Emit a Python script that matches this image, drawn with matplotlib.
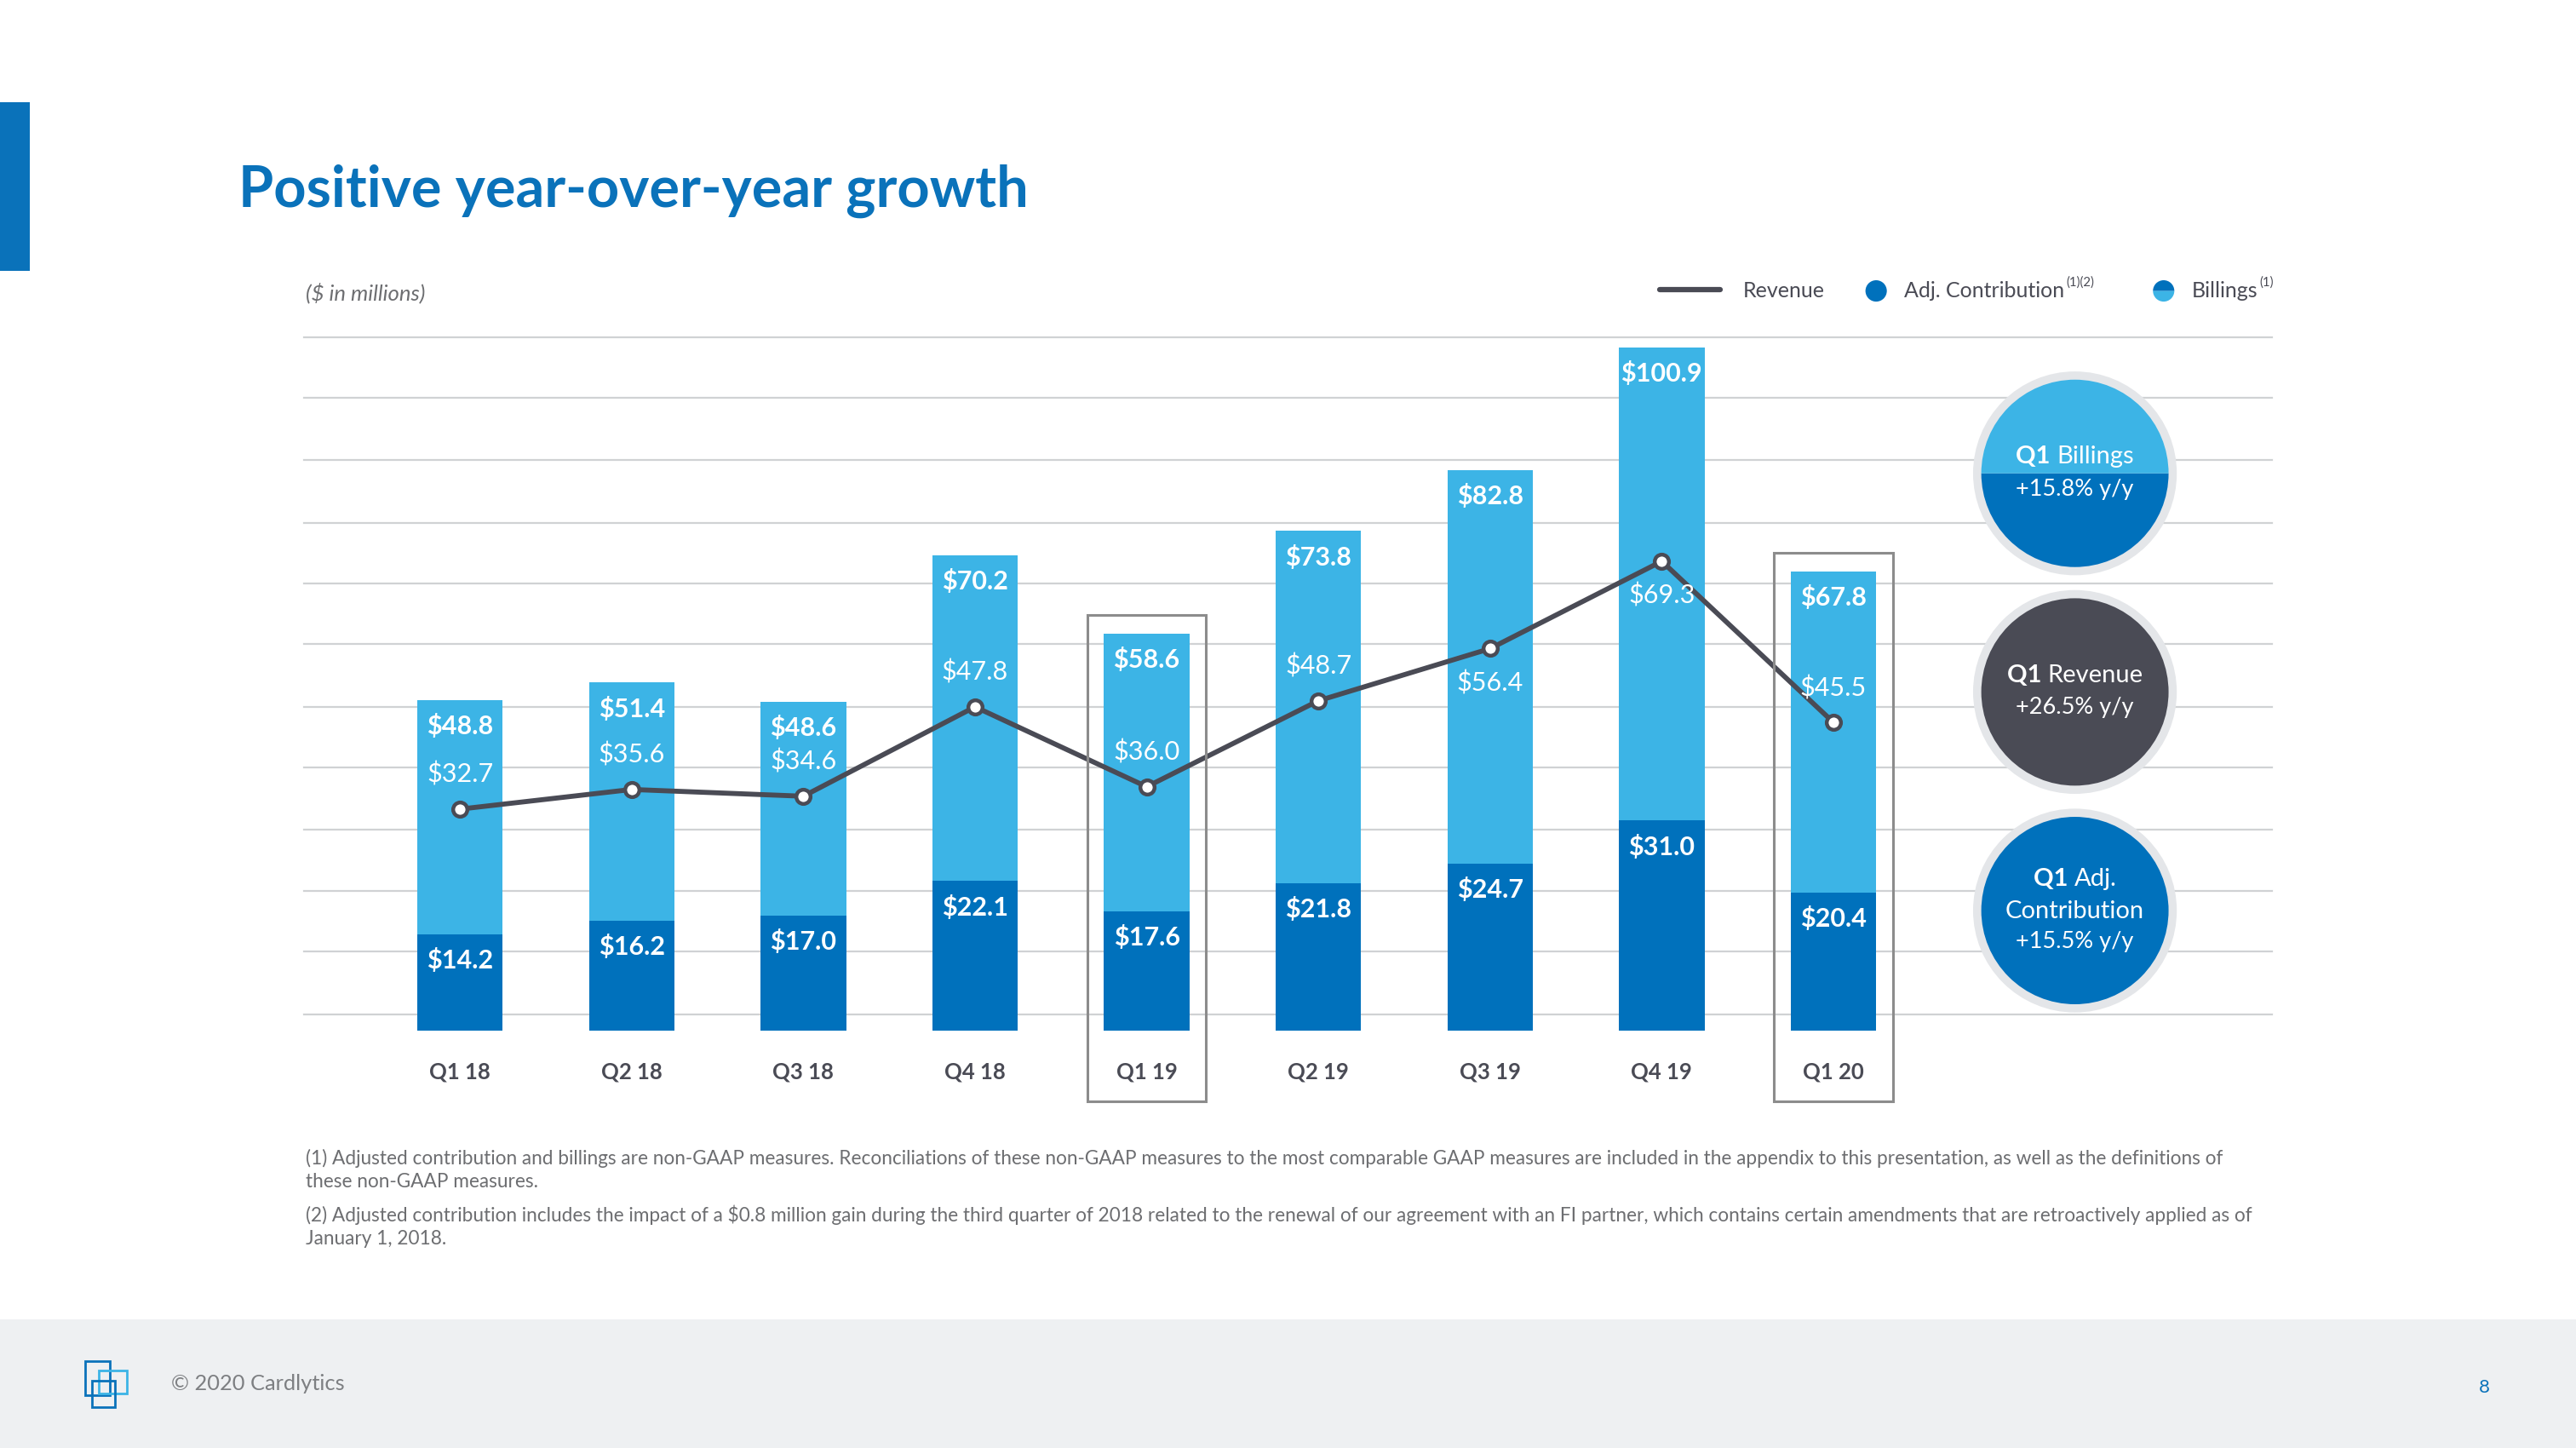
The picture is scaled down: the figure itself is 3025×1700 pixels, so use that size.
import matplotlib

matplotlib.use("Agg")

import matplotlib.pyplot as plt
import numpy as np
from matplotlib.patches import Rectangle, Circle, Wedge

plt.rcParams["font.family"] = ["Lato", "DejaVu Sans"]

# ---- data ($ in millions) ----
quarters = ["Q1 18", "Q2 18", "Q3 18", "Q4 18", "Q1 19", "Q2 19", "Q3 19", "Q4 19", "Q1 20"]
billings = [48.8, 51.4, 48.6, 70.2, 58.6, 73.8, 82.8, 100.9, 67.8]
adj_contribution = [14.2, 16.2, 17.0, 22.1, 17.6, 21.8, 24.7, 31.0, 20.4]
revenue = [32.7, 35.6, 34.6, 47.8, 36.0, 48.7, 56.4, 69.3, 45.5]
highlight = ["Q1 19", "Q1 20"]

callouts = [
    ("Q1", "Billings", ["+15.8% y/y"]),
    ("Q1", "Revenue", ["+26.5% y/y"]),
    ("Q1", "Adj.", ["Contribution", "+15.5% y/y"]),
]

# ---- styling ----
LIGHT = "#3cb4e6"
DARK = "#0071bc"
LINE = "#4a4b55"
GRID = "#d0d2d4"
GRAYTXT = "#6d6e71"
W, H = 1568, 881           # layout units (reference shrunk size)
PXU = 4.12                 # layout px per $M
PT = 3025 / W * 72 / 100   # layout px -> points

fig = plt.figure(figsize=(30.25, 17), dpi=100)
fig.patch.set_facecolor("white")

# main chart axes
left, right, top, base = 185, 1383, 205, 627
ax = fig.add_axes([left / W, 1 - base / H, (right - left) / W, (base - top) / H])
ax.set_zorder(1)
ax.patch.set_visible(False)
step = 104.5
ax.set_xlim((left - 280) / step, (right - 280) / step)
ax.set_ylim(0, (base - top) / PXU)
for s in ax.spines.values():
    s.set_visible(False)
ax.set_xticks([])
ax.set_yticks([])

# decorative gridlines
for gy in [205, 242, 280, 318, 355, 392, 430, 467, 505, 542, 579, 617]:
    ax.axhline((base - gy) / PXU, color=GRID, lw=1.6, zorder=0, clip_on=False)

x = np.arange(len(quarters))
bw = 52 / step
ax.bar(x, billings, width=bw, color=LIGHT, zorder=2)
ax.bar(x, adj_contribution, width=bw, color=DARK, zorder=3)
ax.plot(x, revenue, color=LINE, lw=4.2, zorder=4, marker="o", ms=12,
        mfc="white", mec=LINE, mew=3.2)

for i, q in enumerate(quarters):
    ax.annotate(f"${billings[i]:.1f}", (x[i], billings[i]), xytext=(0, -16 * PT),
                textcoords="offset points", ha="center", va="center",
                color="white", fontsize=22, fontweight="bold", zorder=5)
    ax.annotate(f"${adj_contribution[i]:.1f}", (x[i], adj_contribution[i]), xytext=(0, -16 * PT),
                textcoords="offset points", ha="center", va="center",
                color="white", fontsize=22, fontweight="bold", zorder=5)
    off = -21 if q in ("Q3 19", "Q4 19") else 21
    ax.annotate(f"${revenue[i]:.1f}", (x[i], revenue[i]), xytext=(0, off * PT),
                textcoords="offset points", ha="center", va="center",
                color="white", fontsize=22, zorder=5)
    ax.text(x[i], -(652 - base) / (base - top), q, transform=ax.get_xaxis_transform(),
            ha="center", va="center", fontsize=18.5, fontweight="bold", color="#4a4b55")
    if q in highlight:
        y0 = -(670 - base) / PXU
        y1 = billings[i] + 11.5 / PXU
        ax.add_patch(Rectangle((x[i] - 0.345, y0), 0.69, y1 - y0, fill=False,
                               ec="#8c8c8c", lw=2.2, zorder=6, clip_on=False))

# overlay for layout decorations
ov = fig.add_axes([0, 0, 1, 1])
ov.set_zorder(2)
ov.patch.set_visible(False)
ov.set_xlim(0, W)
ov.set_ylim(H, 0)
ov.axis("off")
renderer = fig.canvas.get_renderer()


def width_of(t):
    ext = t.get_window_extent(renderer)
    inv = ov.transData.inverted()
    return inv.transform((ext.x1, 0))[0] - inv.transform((ext.x0, 0))[0]


def text_with_sup(x0, y0, main, sup, size, color):
    t = ov.text(x0, y0, main, fontsize=size, color=color, va="center")
    ov.text(x0 + width_of(t) + 1, y0 - 5, sup, fontsize=size * 0.6, color=color, va="center")


ov.add_patch(Rectangle((0, 62), 18, 103, color="#0a72ba", lw=0))
ov.text(145, 116, "Positive year-over-year growth", fontsize=48, fontweight="bold",
        color="#0a72ba", va="center", ha="left")
ov.text(186, 178, "($ in millions)", fontsize=18.5, style="italic", color=GRAYTXT, va="center")

# legend
ov.plot([1010, 1047], [176, 176], color=LINE, lw=4.5, solid_capstyle="round")
ov.text(1061, 177, "Revenue", fontsize=18, color="#4a4b55", va="center")
ov.add_patch(Circle((1142, 177), 6.5, color=DARK, lw=0))
text_with_sup(1159, 177, "Adj. Contribution", "(1)(2)", 18, "#4a4b55")
ov.add_patch(Wedge((1317, 177), 6.5, 0, 180, color=LIGHT, lw=0))
ov.add_patch(Wedge((1317, 177), 6.5, 180, 360, color=DARK, lw=0))
text_with_sup(1334, 177, "Billings", "(1)", 18, "#4a4b55")


def bold_regular(cx, cy, bold, rest, size):
    t1 = ov.text(0, cy, bold + " ", fontsize=size, fontweight="bold", color="white", va="center")
    t2 = ov.text(0, cy, rest, fontsize=size, color="white", va="center")
    w1 = width_of(t1)
    wt = w1 + width_of(t2)
    t1.set_x(cx - wt / 2)
    t2.set_x(cx - wt / 2 + w1)


cx = 1263
centers = [288, 421, 554]
for (b, rest, lines), cy, fill in zip(callouts, centers, ["split", LINE, DARK]):
    ov.add_patch(Circle((cx, cy), 62, color="#e4e6e9", lw=0))
    if fill == "split":
        ov.add_patch(Wedge((cx, cy), 57, 0, 180, color=DARK, lw=0))
        ov.add_patch(Wedge((cx, cy), 57, 180, 360, color=LIGHT, lw=0))
    else:
        ov.add_patch(Circle((cx, cy), 57, color=fill, lw=0))
    n = 1 + len(lines)
    ys = [cy - 9 * (n - 1) + 18.5 * k for k in range(n)]
    bold_regular(cx, ys[0] - 1, b, rest, 21)
    for k, ln in enumerate(lines):
        ov.text(cx, ys[k + 1], ln, fontsize=21 if ln == "Contribution" else 19.5,
                color="white", ha="center", va="center")

notes = [
    "(1) Adjusted contribution and billings are non-GAAP measures. Reconciliations of these non-GAAP measures to the most comparable GAAP measures are included in the appendix to this presentation, as well as the definitions of\nthese non-GAAP measures.",
    "(2) Adjusted contribution includes the impact of a $0.8 million gain during the third quarter of 2018 related to the renewal of our agreement with an FI partner, which contains certain amendments that are retroactively applied as of\nJanuary 1, 2018.",
]
ov.text(186, 699, notes[0], fontsize=16.3, color=GRAYTXT, va="top", linespacing=1.35)
ov.text(186, 733, notes[1], fontsize=16.3, color=GRAYTXT, va="top", linespacing=1.35)

# footer
ov.add_patch(Rectangle((0, 803), W, H - 803, color="#eef0f2", lw=0))
ov.add_patch(Rectangle((52, 828), 15, 21, fill=False, ec="#0a72ba", lw=2))
ov.add_patch(Rectangle((60, 834), 17, 14, fill=False, ec="#3cb4e6", lw=2))
ov.add_patch(Rectangle((56, 840), 14, 16, fill=False, ec="#0a72ba", lw=2))
ov.text(104, 842, "\u00a9 2020 Cardlytics", fontsize=18.3, color="#7d7f82", va="center")
ov.text(1512, 844, "8", fontsize=16, color="#0a72ba", va="center", ha="center")

fig.savefig("out.png", dpi=100)
